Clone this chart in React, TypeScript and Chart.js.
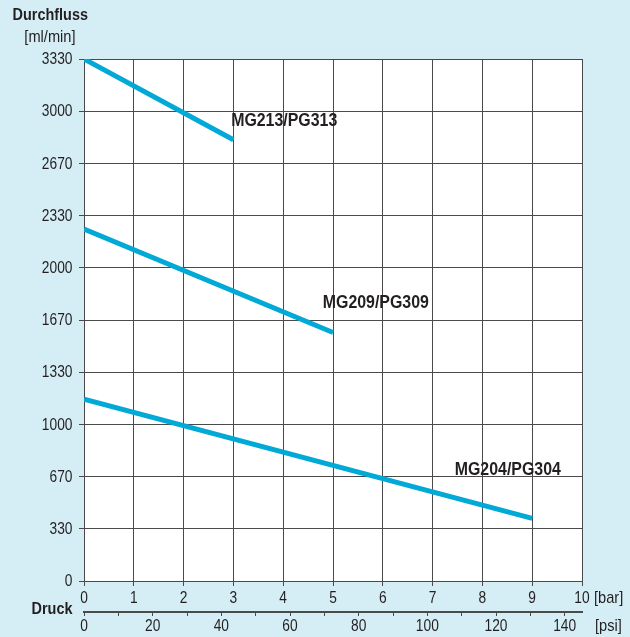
import { useEffect, useRef } from "react";
import { Chart, registerables } from "chart.js";
Chart.register(...registerables);

const yTickLabels = ["0", "330", "670", "1000", "1330", "1670", "2000", "2330", "2670", "3000", "3330"];
const barTickLabels = ["0", "1", "2", "3", "4", "5", "6", "7", "8", "9", "10"];
const psiTickLabels = ["0", "20", "40", "60", "80", "100", "120", "140"];
const seriesNames = ["MG213/PG313", "MG209/PG309", "MG204/PG304"];
const seriesPressure = [
  [0, 3],
  [0, 5],
  [0, 9],
];
const seriesFlow = [
  [3330, 2815],
  [2245, 1585],
  [1160, 400],
];
const labelPressure = [4.02, 5.86, 8.51];
const labelFlow = [2938, 1773, 708];

const FONT = '"Liberation Sans", Arial, sans-serif';
const TEXT = "#231f20";
const GRID = "#4a4a4a";
const LINE = "#00a9d6";
const BG = "#d5eef6";
const SX = 0.81;

function drawText(ctx: CanvasRenderingContext2D, text: string, x: number, y: number, align: CanvasTextAlign, font: string, sx: number) {
  ctx.save();
  ctx.translate(x, y);
  ctx.scale(sx, 1);
  ctx.font = font;
  ctx.textAlign = align;
  ctx.textBaseline = "middle";
  ctx.fillStyle = TEXT;
  ctx.fillText(text, 0, 0);
  ctx.restore();
}

export default function App() {
  const ref = useRef<HTMLCanvasElement | null>(null);
  useEffect(() => {
    const canvas = ref.current;
    if (!canvas) return;
    const annot = {
      id: "annot",
      beforeDraw(chart: any) {
        const { ctx, chartArea } = chart;
        ctx.save();
        ctx.fillStyle = "#ffffff";
        ctx.fillRect(chartArea.left, chartArea.top, chartArea.right - chartArea.left, chartArea.bottom - chartArea.top);
        ctx.restore();
      },
      afterDraw(chart: any) {
        const { ctx, chartArea } = chart;
        const xs = chart.scales.x;
        const x2 = chart.scales.x2;
        const ys = chart.scales.y;
        const reg = `17px ${FONT}`;
        const bold = `bold 17px ${FONT}`;
        ys.ticks.forEach((t: any, i: number) => {
          drawText(ctx, yTickLabels[i] ?? "", chartArea.left - 11.5, ys.getPixelForValue(t.value) + 0.5, "right", reg, SX);
        });
        xs.ticks.forEach((t: any, i: number) => {
          drawText(ctx, barTickLabels[i] ?? "", xs.getPixelForValue(t.value), chartArea.bottom + 17, "center", reg, SX);
        });
        psiTickLabels.forEach((lab) => {
          drawText(ctx, lab, x2.getPixelForValue(Number(lab)), chartArea.bottom + 45.5, "center", reg, SX);
        });
        drawText(ctx, "Durchfluss", 12.5, 15.5, "left", bold, 0.85);
        drawText(ctx, "[ml/min]", chartArea.left - 8.5, 37.5, "right", reg, 0.86);
        drawText(ctx, "Druck", chartArea.left - 11.5, 609.5, "right", bold, 0.85);
        drawText(ctx, "[bar]", chartArea.right + 12, chartArea.bottom + 17, "left", reg, 0.86);
        drawText(ctx, "[psi]", chartArea.right + 13, chartArea.bottom + 45.5, "left", reg, 0.86);
        for (let i = 0; i < seriesNames.length; i++) {
          drawText(ctx, seriesNames[i], xs.getPixelForValue(labelPressure[i]), ys.getPixelForValue(labelFlow[i]), "center", `bold 18.5px ${FONT}`, 0.86);
        }
      },
    };
    const chart = new Chart(canvas, {
      type: "line",
      data: {
        datasets: seriesNames.map((name, i) => ({
          label: name,
          data: seriesPressure[i].map((p, j) => ({ x: p, y: seriesFlow[i][j] })),
          borderColor: LINE,
          borderWidth: 5,
          pointRadius: 0,
          borderCapStyle: "butt" as const,
          xAxisID: "x",
          yAxisID: "y",
        })),
      },
      options: {
        animation: false,
        responsive: false,
        devicePixelRatio: 1,
        layout: { padding: { left: 0, right: 48, top: 59, bottom: 0 } },
        plugins: { legend: { display: false }, tooltip: { enabled: false } },
        scales: {
          x: {
            type: "linear",
            position: "bottom",
            weight: 0,
            min: 0,
            max: 10,
            ticks: { stepSize: 1, display: false, autoSkip: false },
            grid: { color: GRID, tickLength: 5, lineWidth: 1 },
            border: { color: GRID },
            afterFit: (s: any) => {
              s.height = 31;
            },
          },
          x2: {
            type: "linear",
            position: "bottom",
            weight: 1,
            min: 0,
            max: 145.04,
            ticks: { stepSize: 10, includeBounds: false, autoSkip: false, display: false },
            grid: { drawOnChartArea: false, color: GRID, tickLength: 4 },
            border: { color: GRID, width: 2 },
            afterFit: (s: any) => {
              s.height = 25;
            },
          },
          y: {
            type: "linear",
            min: 0,
            max: 3330,
            ticks: { stepSize: 333, display: false, autoSkip: false },
            grid: { color: GRID, tickLength: 5, lineWidth: 1 },
            border: { color: GRID },
            afterFit: (s: any) => {
              s.width = 84;
            },
          },
        },
      },
      plugins: [annot],
    });
    return () => chart.destroy();
  }, []);
  return (
    <div style={{ position: "absolute", left: 0, top: 0, width: 630, height: 637, background: BG }}>
      <canvas ref={ref} width={630} height={637} style={{ display: "block" }} />
    </div>
  );
}
